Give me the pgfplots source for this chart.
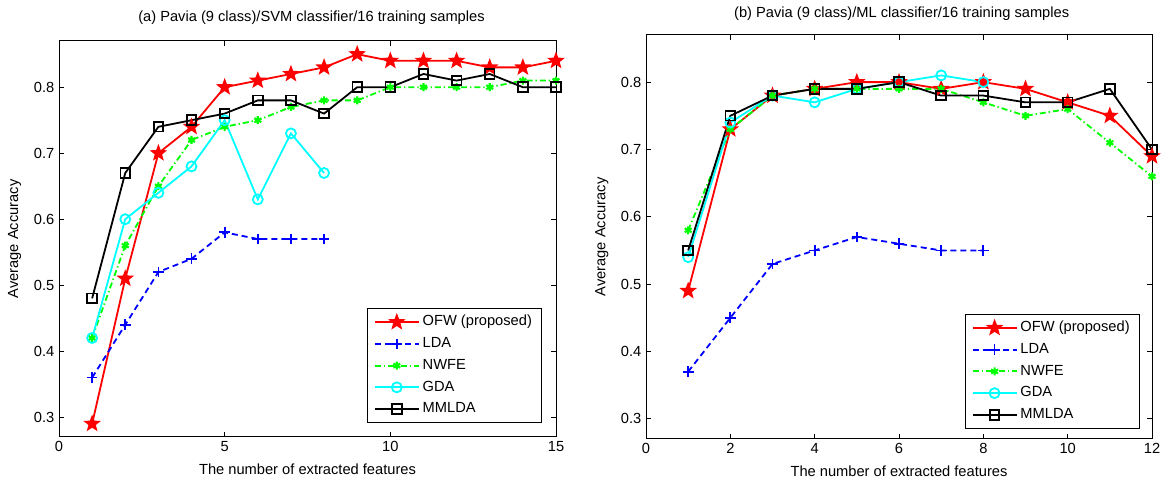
\documentclass[border=0pt]{standalone}
\usepackage{fontspec}
\setmainfont{Liberation Sans}
\usepackage{pgfplots}
\pgfplotsset{compat=1.18}
\usetikzlibrary{plotmarks}

\pgfdeclareplotmark{fstar}{%
  \pgfpathmoveto{\pgfpointpolar{90}{\pgfplotmarksize}}%
  \pgfpathlineto{\pgfpointpolar{126}{0.42\pgfplotmarksize}}%
  \pgfpathlineto{\pgfpointpolar{162}{\pgfplotmarksize}}%
  \pgfpathlineto{\pgfpointpolar{198}{0.42\pgfplotmarksize}}%
  \pgfpathlineto{\pgfpointpolar{234}{\pgfplotmarksize}}%
  \pgfpathlineto{\pgfpointpolar{270}{0.42\pgfplotmarksize}}%
  \pgfpathlineto{\pgfpointpolar{306}{\pgfplotmarksize}}%
  \pgfpathlineto{\pgfpointpolar{342}{0.42\pgfplotmarksize}}%
  \pgfpathlineto{\pgfpointpolar{18}{\pgfplotmarksize}}%
  \pgfpathlineto{\pgfpointpolar{54}{0.42\pgfplotmarksize}}%
  \pgfpathclose
  \pgfusepathqfillstroke
}

\definecolor{mred}{rgb}{1,0,0}
\definecolor{mblue}{rgb}{0,0,1}
\definecolor{mgreen}{rgb}{0,1,0}
\definecolor{mcyan}{rgb}{0,1,1}

\pgfplotsset{
  mystyle/.style={
    scale only axis,
    anchor=south west,
    font=\fontsize{11}{13}\selectfont,
    tick label style={font=\fontsize{11}{13}\selectfont},
    /pgf/number format/assume math mode=true,
    label style={font=\fontsize{11}{13}\selectfont},
    title style={font=\fontsize{11}{13}\selectfont},
    axis line style={line width=0.75pt, black},
    every tick/.style={black, line width=0.6pt},
    tick align=inside,
    major tick length=3.5pt,
    ymin=0.27, ymax=0.87,
    ytick={0.3,0.4,0.5,0.6,0.7,0.8},
    yticklabels={0.3,0.4,0.5,0.6,0.7,0.8},
    clip=false,
    xlabel={The number of extracted features},
    ylabel={Average Accuracy},
    legend cell align=left,
    legend image code/.code={%
      \draw[line width=1.35pt, mark repeat=2,mark phase=2] plot coordinates {(0pt,0pt) (16.5pt,0pt) (33pt,0pt)};},
    legend style={
      font=\fontsize{11}{13}\selectfont,
      draw=black, fill=white, line width=0.75pt,
      inner xsep=5pt, inner ysep=2pt,
      row sep=0pt,
      nodes={inner xsep=2.25pt, inner ysep=2.9pt, text height=8pt, text depth=2.5pt},
      anchor=south east},
  },
  ofw/.style={color=mred, line width=1.35pt, mark=fstar, mark size=5pt, mark options={solid, fill=mred, line width=1.35pt}},
  lda/.style={color=mblue, line width=1.35pt, dash pattern=on 4.5pt off 3pt, mark=+, mark size=4pt, mark options={solid, line width=1.35pt}},
  nwfe/.style={color=mgreen, line width=1.35pt, dash pattern=on 4.5pt off 2.2pt on 1pt off 2.2pt, mark=asterisk, mark size=3pt, mark options={solid, line width=1.6pt}},
  gda/.style={color=mcyan, line width=1.35pt, mark=o, mark size=3.75pt, mark options={solid, line width=1.35pt}},
  mmlda/.style={color=black, line width=1.35pt, mark=square, mark size=3.6pt, mark options={solid, line width=1.35pt}},
}

\begin{document}
\begin{tikzpicture}
\useasboundingbox (0,0) rectangle (873pt,360.75pt);

\begin{axis}[mystyle,
  at={(44.25pt,33pt)},
  width=372.75pt, height=297pt,
  xmin=0, xmax=15,
  xtick={0,5,10,15},
  title={(a) Pavia (9 class)/SVM classifier/16 training samples},
  title style={at={(0.5,1)}, anchor=base, yshift=8.8pt, xshift=3pt},
  xlabel style={at={(axis description cs:0.5,0)}, anchor=base, yshift=-28.3pt},
  ylabel style={at={(axis description cs:-0.0895,0.5)}, anchor=center},
  legend style={at={(axis description cs:0.972,0.035)}},
]
\addplot[ofw] coordinates {(1,0.29) (2,0.51) (3,0.70) (4,0.74) (5,0.80) (6,0.81) (7,0.82) (8,0.83) (9,0.85) (10,0.84) (11,0.84) (12,0.84) (13,0.83) (14,0.83) (15,0.84)};
\addplot[lda] coordinates {(1,0.36) (2,0.44) (3,0.52) (4,0.54) (5,0.58) (6,0.57) (7,0.57) (8,0.57)};
\addplot[nwfe] coordinates {(1,0.42) (2,0.56) (3,0.65) (4,0.72) (5,0.74) (6,0.75) (7,0.77) (8,0.78) (9,0.78) (10,0.80) (11,0.80) (12,0.80) (13,0.80) (14,0.81) (15,0.81)};
\addplot[gda] coordinates {(1,0.42) (2,0.60) (3,0.64) (4,0.68) (5,0.75) (6,0.63) (7,0.73) (8,0.67)};
\addplot[mmlda] coordinates {(1,0.48) (2,0.67) (3,0.74) (4,0.75) (5,0.76) (6,0.78) (7,0.78) (8,0.76) (9,0.80) (10,0.80) (11,0.82) (12,0.81) (13,0.82) (14,0.80) (15,0.80)};
\legend{OFW (proposed),LDA,NWFE,GDA,MMLDA}
\end{axis}

\begin{axis}[mystyle,
  at={(484.5pt,31.5pt)},
  width=379.5pt, height=303pt,
  xmin=0, xmax=12,
  xtick={0,2,4,6,8,10,12},
  title={(b) Pavia (9 class)/ML classifier/16 training samples},
  title style={at={(0.5,1)}, anchor=base, yshift=7pt, xshift=2pt},
  xlabel style={at={(axis description cs:0.5,0)}, anchor=base, yshift=-28.3pt},
  ylabel style={at={(axis description cs:-0.0875,0.5)}, anchor=center},
  legend style={at={(axis description cs:0.976,0.025)}},
]
\addplot[ofw] coordinates {(1,0.49) (2,0.73) (3,0.78) (4,0.79) (5,0.80) (6,0.80) (7,0.79) (8,0.80) (9,0.79) (10,0.77) (11,0.75) (12,0.69)};
\addplot[lda] coordinates {(1,0.37) (2,0.45) (3,0.53) (4,0.55) (5,0.57) (6,0.56) (7,0.55) (8,0.55)};
\addplot[nwfe] coordinates {(1,0.58) (2,0.73) (3,0.78) (4,0.79) (5,0.79) (6,0.79) (7,0.79) (8,0.77) (9,0.75) (10,0.76) (11,0.71) (12,0.66)};
\addplot[gda] coordinates {(1,0.54) (2,0.74) (3,0.78) (4,0.77) (5,0.79) (6,0.80) (7,0.81) (8,0.80)};
\addplot[mmlda] coordinates {(1,0.55) (2,0.75) (3,0.78) (4,0.79) (5,0.79) (6,0.80) (7,0.78) (8,0.78) (9,0.77) (10,0.77) (11,0.79) (12,0.70)};
\legend{OFW (proposed),LDA,NWFE,GDA,MMLDA}
\end{axis}
\end{tikzpicture}
\end{document}
